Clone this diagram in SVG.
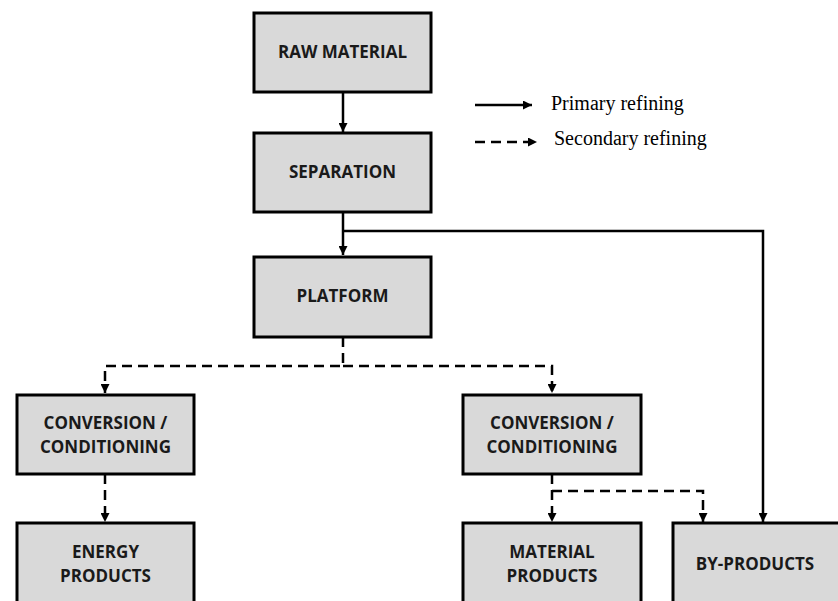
<svg xmlns="http://www.w3.org/2000/svg" width="838" height="601" viewBox="0 0 838 601">
<defs>
<marker id="ah" markerWidth="9" markerHeight="9" refX="9" refY="4.5" orient="auto" markerUnits="userSpaceOnUse">
<path d="M0,0 L9,4.5 L0,9 Z" fill="#000"/>
</marker>
<style>
.box{fill:#d9d9d9;stroke:#000;stroke-width:3}
.lbl{font-family:"Open Sans","Liberation Sans",sans-serif;font-weight:bold;font-size:17px;fill:#1a1a1a;text-anchor:middle}
.leg{font-family:"Liberation Serif",serif;font-size:20px;fill:#000}
.solid{fill:none;stroke:#000;stroke-width:2.5}
.dash{fill:none;stroke:#000;stroke-width:2.5;stroke-dasharray:10 6}
</style>
</defs>
<rect width="838" height="601" fill="#fff"/>
<g id="connectors">
<path class="solid" d="M343,92 V132" marker-end="url(#ah)"/>
<path class="solid" d="M343,212 V255" marker-end="url(#ah)"/>
<path class="solid" d="M343,231 H763 V522" marker-end="url(#ah)"/>
<path class="dash" d="M343,337 V366 H105 V393" marker-end="url(#ah)"/>
<path class="dash" d="M343,366 H552 V393" marker-end="url(#ah)"/>
<path class="dash" d="M105,474 V522" marker-end="url(#ah)"/>
<path class="dash" d="M552,474 V522" marker-end="url(#ah)"/>
<path class="dash" d="M552,491 H703 V522" marker-end="url(#ah)"/>
</g>
<g id="legend">
<path class="solid" d="M475,105 H532" marker-end="url(#ah)"/>
<text class="leg" x="551" y="110">Primary refining</text>
<path class="dash" d="M475,142 H537" marker-end="url(#ah)"/>
<text class="leg" x="554" y="145">Secondary refining</text>
</g>
<g id="raw-material"><rect class="box" x="254" y="13" width="177" height="79"/><text class="lbl" x="342.5" y="58">RAW MATERIAL</text></g>
<g id="separation"><rect class="box" x="254" y="133" width="177" height="79"/><text class="lbl" x="342.5" y="178">SEPARATION</text></g>
<g id="platform"><rect class="box" x="254" y="257" width="177" height="80"/><text class="lbl" x="342.5" y="302">PLATFORM</text></g>
<g id="conv-left"><rect class="box" x="17" y="395" width="177" height="79"/><text class="lbl" x="105.5" y="429">CONVERSION /</text><text class="lbl" x="105.5" y="453">CONDITIONING</text></g>
<g id="conv-right"><rect class="box" x="463" y="395" width="178" height="79"/><text class="lbl" x="552" y="429">CONVERSION /</text><text class="lbl" x="552" y="453">CONDITIONING</text></g>
<g id="energy"><rect class="box" x="17" y="523" width="177" height="90"/><text class="lbl" x="105.5" y="558">ENERGY</text><text class="lbl" x="105.5" y="582">PRODUCTS</text></g>
<g id="material"><rect class="box" x="463" y="523" width="178" height="90"/><text class="lbl" x="552" y="558">MATERIAL</text><text class="lbl" x="552" y="582">PRODUCTS</text></g>
<g id="byproducts"><rect class="box" x="673" y="523" width="170" height="90"/><text class="lbl" x="755" y="570">BY-PRODUCTS</text></g>
</svg>
